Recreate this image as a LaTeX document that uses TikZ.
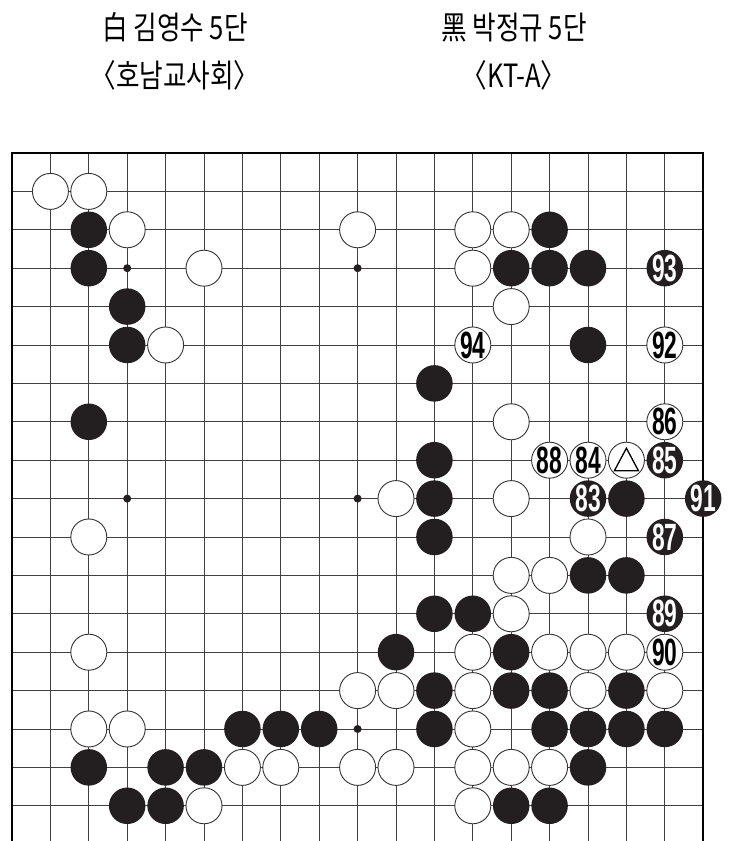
\documentclass[tikz,border=0pt]{standalone}
\usepackage{fontspec}
\setmainfont{Noto Sans CJK KR}
\newfontfamily\titlefont[FakeStretch=0.8]{Noto Sans CJK KR}
\newfontfamily\numfont[FakeStretch=0.6]{Liberation Sans}
\definecolor{stoneblack}{HTML}{231F20}
\tikzset{
  gridline/.style={black!75, line width=0.9pt},
  boardedge/.style={black, line width=2pt},
  wstone/.style={circle, draw=black!80, fill=white, line width=0.9pt, minimum size=36pt, inner sep=0pt},
  bstone/.style={circle, fill=stoneblack, minimum size=36.5pt, inner sep=0pt},
  numtxt/.style={inner sep=0pt, font=\numfont\bfseries\fontsize{38}{38}\selectfont},
  wnum/.style={wstone, label={[numtxt]center:#1}},
  bnum/.style={bstone, label={[numtxt, text=white]center:#1}},
  player/.style={inner sep=0pt, font=\titlefont\fontsize{32}{32}\selectfont}
}
\begin{document}
\begin{tikzpicture}[x=38.4pt, y=-38.4pt]
\useasboundingbox (-0.3125,-3.984) rectangle (19.036,17.917);
\node[player] (white-name) at (4.245,-3.27) {白 김영수 5단};
\node[player] (white-team) at (4.245,-2.03) {〈호남교사회〉};
\node[player] (black-name) at (13.07,-3.27) {黑 박정규 5단};
\node[player] (black-team) at (13.07,-2.03) {〈KT-A〉};
\foreach \i in {1,...,17} {
  \draw[gridline] (\i,0) -- (\i,17.917);
  \draw[gridline] (0,\i) -- (18,\i);
}
\draw[boardedge] (0,17.917) -- (0,0) -- (18,0) -- (18,17.917);
\foreach \c/\r in {3/3,9/3,3/9,9/9,9/15} \fill[stoneblack] (\c,\r) circle (4pt);
\foreach \c/\r in {1/1,2/1,3/2,9/2,12/2,13/2,5/3,12/3,13/4,4/5,13/7,10/9,13/9,2/10,15/10,
  13/11,14/11,13/12,2/13,12/13,14/13,15/13,16/13,9/14,10/14,12/14,15/14,17/14,2/15,3/15,
  12/15,6/16,7/16,9/16,10/16,12/16,13/16,14/16,5/17,12/17}
  \node[wstone] (w-\c-\r) at (\c,\r) {};
\foreach \c/\r in {2/2,14/2,2/3,13/3,14/3,15/3,3/4,3/5,15/5,11/6,2/7,11/8,11/9,16/9,11/10,
  15/11,16/11,11/12,12/12,10/13,13/13,11/14,13/14,14/14,16/14,6/15,7/15,8/15,11/15,14/15,
  15/15,16/15,17/15,2/16,4/16,5/16,15/16,3/17,4/17,13/17,14/17}
  \node[bstone] (b-\c-\r) at (\c,\r) {};
\foreach \c/\r/\n in {15/9/83,17/8/85,17/10/87,17/12/89,18/9/91,17/3/93}
  \node[bnum=\n] (b-\c-\r) at (\c,\r) {};
\foreach \c/\r/\n in {15/8/84,17/7/86,14/8/88,17/13/90,17/5/92,12/5/94}
  \node[wnum=\n] (w-\c-\r) at (\c,\r) {};
\node[wstone] (w-16-8) at (16,8) {};
\draw[line width=1.3pt] ([shift={(0pt,12pt)}]w-16-8.center) -- ([shift={(12pt,-10.5pt)}]w-16-8.center)
  -- ([shift={(-12pt,-10.5pt)}]w-16-8.center) -- cycle;
\end{tikzpicture}
\end{document}
